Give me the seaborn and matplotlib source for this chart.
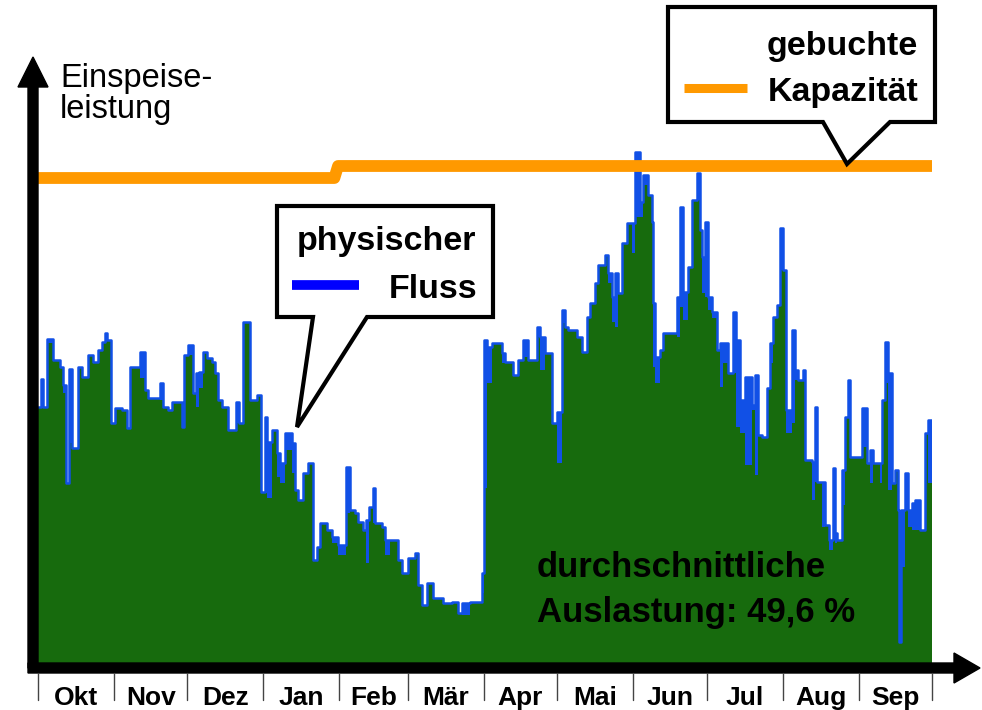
import numpy as np
import seaborn as sns
import matplotlib.pyplot as plt
from matplotlib.patches import Polygon, FancyArrow
from matplotlib.lines import Line2D
from matplotlib.transforms import blended_transform_factory

# Tage seit 1. Oktober, Beginn jedes Abschnitts (Stufenfunktion)
tage = [0, 1.2, 2.0, 3.6, 6.1, 9.0, 10.2, 11.3, 12.7, 13.9, 16.3, 18.0, 20.4, 22.5, 24.5,
        26.1, 27.4, 28.2, 29.8, 31.4, 34.3, 36.3, 37.6, 41.6, 43.7, 44.9, 49.8, 51.0, 53.1,
        54.7, 58.8, 59.6, 61.2, 63.3, 64.5, 65.7, 67.4, 69.0, 71.0, 72.3, 73.5, 75.1, 77.6,
        80.8, 82.1, 83.7, 86.6, 89.4, 91.0, 92.7, 93.5, 95.5, 97.6, 98.8, 100.8, 103.7, 104.9,
        106.2, 108.2, 110.2, 112.3, 113.9, 115.1, 118.0, 120.0, 122.5, 125.7, 127.4, 129.4,
        130.6, 132.7, 133.9, 135.1, 136.8, 137.6, 140.4, 141.7, 143.7, 147.0, 148.6, 151.1,
        153.9, 155.1, 156.8, 158.8, 161.3, 165.4, 169.0, 171.5, 173.1, 176.4, 181.3, 182.1,
        183.3, 185.4, 189.4, 190.7, 193.9, 196.0, 198.0, 200.1, 203.7, 205.0, 207.0, 209.9,
        211.9, 213.9, 215.2, 216.4, 220.1, 222.1, 224.1, 225.4, 227.4, 228.6, 231.5, 232.7,
        234.4, 235.6, 236.8, 238.4, 240.5, 242.5, 243.7, 245.8, 247.0, 249.0, 250.7, 251.1,
        251.9, 253.9, 255.2, 260.9, 262.1, 263.3, 265.4, 267.0, 269.1, 270.3, 271.1, 272.3,
        273.5, 275.2, 277.2, 278.4, 279.7, 281.7, 283.8, 285.0, 286.6, 288.6, 291.5, 292.7,
        294.0, 295.6, 297.6, 298.9, 300.1, 301.7, 302.9, 304.2, 305.4, 307.8, 309.1, 310.3,
        312.3, 313.2, 316.0, 317.2, 318.0, 320.1, 321.3, 323.0, 324.6, 325.4, 326.2, 328.3,
        329.5, 330.7, 331.5, 336.4, 338.5, 339.7, 340.9, 343.8, 344.6, 345.8, 347.0, 348.7,
        349.9, 351.1, 351.5, 352.3, 353.9, 355.2, 356.8, 358.0, 360.1, 362.1, 363.4]

# physischer Fluss (blau)
fluss = [256, 284, 256, 324, 303, 296, 278, 180, 294, 215, 296, 286, 308, 301, 313,
         321, 330, 323, 240, 255, 253, 235, 296, 311, 273, 265, 280, 256, 253,
         261, 236, 308, 318, 270, 290, 291, 311, 305, 301, 290, 263, 256, 233,
         261, 240, 341, 263, 268, 171, 246, 221, 233, 210, 200, 230, 220, 173,
         163, 190, 200, 103, 116, 140, 133, 126, 118, 196, 153, 150,
         141, 133, 143, 156, 175, 140, 136, 123, 123, 103, 90, 105,
         110, 78, 58, 80, 65, 60, 61, 50, 60, 61, 90, 323,
         316, 320, 310, 301, 288, 303, 323, 303, 336, 326, 310, 240,
         251, 353, 336, 333, 326, 311, 346, 360, 380, 398, 408, 390,
         366, 390, 370, 420, 440, 440, 511, 461, 488, 468, 441, 360,
         306, 313, 330, 366, 456, 371, 396, 463, 490, 433, 406, 441,
         366, 351, 313, 320, 320, 290, 351, 323, 263, 286, 258, 288,
         228, 226, 275, 320, 346, 358, 435, 393, 253, 333, 293, 283,
         293, 203, 201, 256, 181, 181, 138, 123, 195, 130, 123, 193,
         246, 283, 206, 255, 200, 213, 200, 200, 263, 321, 290, 180,
         193, 153, 21, 153, 190, 153, 160, 163, 133, 230, 243]

# zweite Reihe (gruen)
gruen = [256, 256, 256, 320, 303, 296, 270, 180, 220, 215, 296, 286, 308, 301, 313,
         321, 325, 323, 240, 255, 253, 235, 296, 285, 273, 265, 263, 256, 253,
         261, 236, 308, 308, 270, 256, 275, 311, 305, 301, 290, 263, 256, 233,
         240, 240, 341, 263, 268, 171, 170, 165, 233, 186, 180, 213, 190, 173,
         163, 190, 200, 103, 116, 140, 133, 120, 108, 150, 153, 150,
         141, 133, 100, 156, 140, 140, 136, 108, 123, 103, 90, 105,
         110, 78, 58, 80, 65, 60, 61, 50, 48, 61, 70, 175,
         280, 320, 300, 301, 288, 303, 306, 303, 326, 293, 310, 240,
         200, 340, 336, 333, 326, 311, 346, 360, 380, 398, 408, 380,
         341, 336, 370, 420, 440, 410, 446, 446, 478, 468, 441, 296,
         280, 313, 330, 326, 356, 343, 396, 463, 463, 433, 370, 366,
         353, 345, 313, 276, 300, 290, 290, 236, 230, 198, 253, 188,
         228, 226, 275, 300, 346, 358, 393, 393, 230, 240, 283, 283,
         293, 203, 163, 181, 181, 136, 138, 113, 123, 120, 123, 158,
         246, 246, 206, 216, 200, 180, 200, 180, 263, 280, 173, 180,
         193, 153, 21, 96, 153, 136, 133, 133, 133, 230, 180]

kap_tage = [0, 121, 122.5, 365]
kapazitaet = [485, 485, 497, 497]

monate = ['Okt', 'Nov', 'Dez', 'Jan', 'Feb', 'Mär', 'Apr', 'Mai', 'Jun', 'Jul', 'Aug', 'Sep']
monatsgrenzen = [0, 31, 61, 92, 123, 151, 182, 212, 243, 273, 304, 335, 365]

sns.set_style('white')
plt.rcParams['font.family'] = ['Liberation Sans', 'DejaVu Sans']
plt.rcParams['text.color'] = 'black'

W, H = 982, 710
fig = plt.figure(figsize=(W / 100, H / 100), dpi=100)
ax = fig.add_axes([38 / W, 47 / H, 894 / W, 606 / H])
ax.set_xlim(0, 365)
ax.set_ylim(0, 606)
ax.axis('off')

x = np.array(tage + [365])
yb = np.array(fluss + [fluss[-1]])
yg = np.array(gruen + [gruen[-1]])

blau = '#1150e6'
ax.fill_between(x, 0, yb, step='post', color=blau, lw=0, zorder=1)
ax.fill_between(x, 0, yg, step='post', color='#176b0d', lw=0, zorder=2)
sns.lineplot(x=x, y=yb, ax=ax, color=blau, linewidth=1.8, drawstyle='steps-post',
             zorder=3, legend=False)
sns.lineplot(x=kap_tage, y=kapazitaet, ax=ax, color='#ff9900', linewidth=8.5,
             zorder=4, legend=False, solid_capstyle='butt')
ax.set_xlabel('')
ax.set_ylabel('')


def px(xp, yp):
    # Pixel (von oben links) -> Zoll
    return xp / 100, (H - yp) / 100


tr = fig.dpi_scale_trans

# Achsenpfeile
x0, y0 = px(33, 668)
fig.patches.append(FancyArrow(x0, y0, 0, (668 - 57) / 100, width=0.10, head_width=0.30,
                              head_length=0.30, length_includes_head=True,
                              color='black', transform=tr, figure=fig))
x0, y0 = px(28, 668)
fig.patches.append(FancyArrow(x0, y0, (980 - 28) / 100, 0, width=0.10, head_width=0.30,
                              head_length=0.26, length_includes_head=True,
                              color='black', transform=tr, figure=fig))

# Monatsbeschriftung
bt = blended_transform_factory(ax.transData, tr)
for g in monatsgrenzen:
    fig.lines.append(Line2D([g, g], [px(0, 673)[1], px(0, 700)[1]], color='#444444',
                            lw=1, transform=bt, figure=fig))
for i, m in enumerate(monate):
    mitte = (monatsgrenzen[i] + monatsgrenzen[i + 1]) / 2
    fig.text(mitte, px(0, 705)[1], m, transform=bt, ha='center', va='baseline',
             fontsize=19, fontweight='bold')

# y-Achsentitel
fig.text(*px(60, 87), 'Einspeise-', transform=tr, fontsize=23.5, va='baseline')
fig.text(*px(60, 118), 'leistung', transform=tr, fontsize=23.5, va='baseline')


def callout(punkte):
    fig.patches.append(Polygon([px(a, b) for a, b in punkte], closed=True, facecolor='white',
                               edgecolor='black', lw=3, joinstyle='miter', transform=tr,
                               figure=fig, zorder=5))


callout([(668, 7), (935, 7), (935, 122), (890, 122), (847, 164), (823, 122), (668, 122)])
callout([(277, 206), (493, 206), (493, 317), (367, 317), (297, 427), (313, 317), (277, 317)])

fig.lines.append(Line2D([px(684, 0)[0], px(747, 0)[0]], [px(0, 87.5)[1]] * 2, color='#ff9900',
                        lw=6.5, solid_capstyle='butt', transform=tr, figure=fig, zorder=6))
fig.lines.append(Line2D([px(292, 0)[0], px(359, 0)[0]], [px(0, 285)[1]] * 2, color='#0000ff',
                        lw=7, solid_capstyle='butt', transform=tr, figure=fig, zorder=6))

for txt, xp, yp in [('gebuchte', 918, 55), ('Kapazität', 918, 101),
                    ('physischer', 476, 250), ('Fluss', 477, 298)]:
    fig.text(*px(xp, yp), txt, transform=tr, ha='right', va='baseline', fontsize=24.5,
             fontweight='bold', zorder=7)

fig.text(*px(537, 577), 'durchschnittliche', transform=tr, va='baseline', fontsize=25,
         fontweight='bold')
fig.text(*px(537, 622), 'Auslastung: 49,6 %', transform=tr, va='baseline', fontsize=25,
         fontweight='bold')

fig.savefig('out.png', dpi=100)
